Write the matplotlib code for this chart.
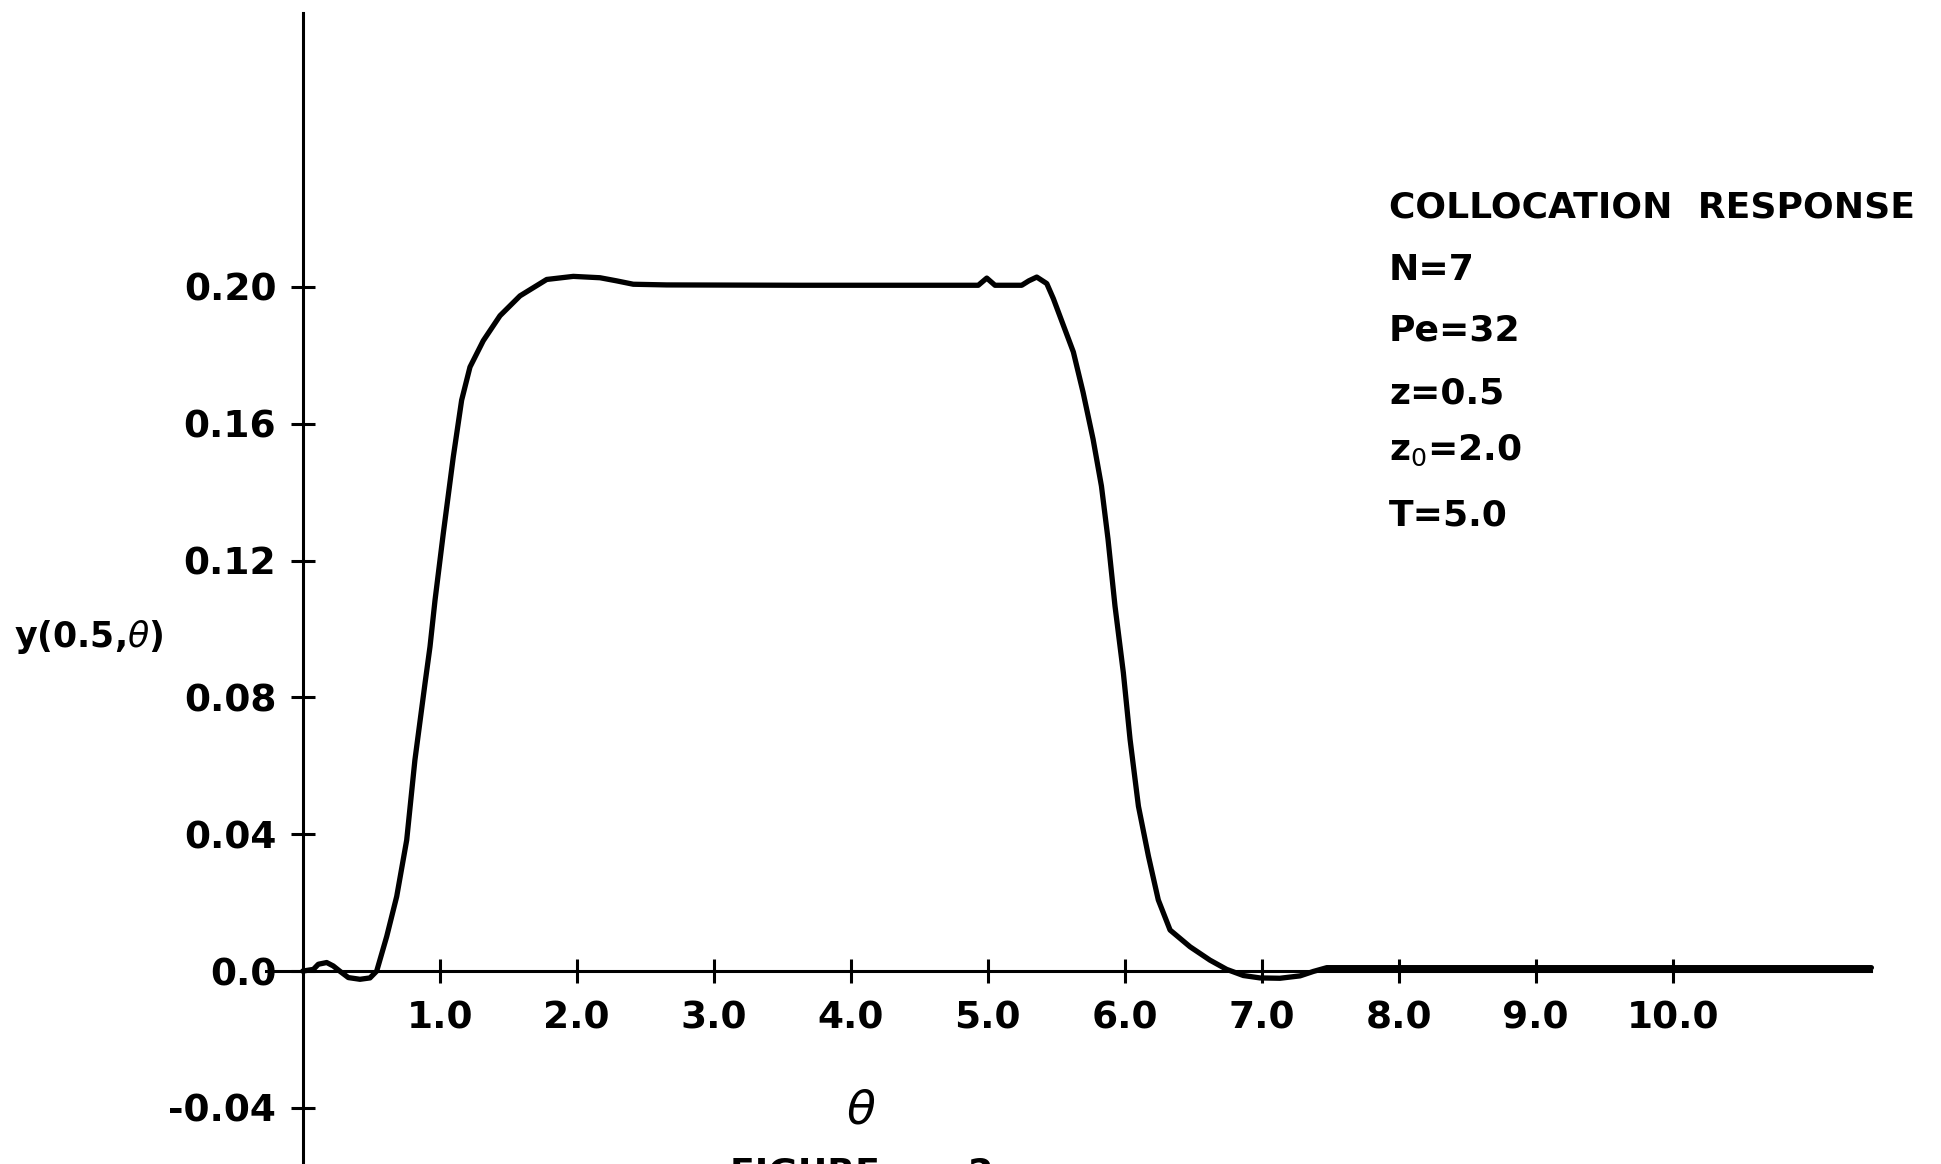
import matplotlib.pyplot as plt

# collocation response y(0.5, theta)
theta = [0.00, 0.078, 0.114, 0.175, 0.223, 0.27, 0.333, 0.418, 0.491, 0.54,
         0.613, 0.686, 0.759, 0.819, 0.893, 0.929, 0.966, 1.026, 1.099, 1.160,
         1.221, 1.318, 1.440, 1.586, 1.781, 1.975, 2.170, 2.29, 2.413, 2.657,
         3.63, 4.50, 4.931, 4.993, 5.053, 5.248, 5.30, 5.358, 5.431, 5.479,
         5.552, 5.625, 5.696, 5.769, 5.830, 5.878, 5.929, 5.990, 6.039, 6.100,
         6.173, 6.245, 6.331, 6.477, 6.622, 6.744, 6.866, 6.987, 7.133, 7.280,
         7.377, 7.475, 8.0, 9.0, 10.0, 11.45]
y_resp = [0.0000, 0.0005, 0.0020, 0.0025, 0.0015, 0.0000, -0.0019, -0.0024, -0.0020, 0.0000,
          0.0101, 0.0218, 0.0383, 0.0617, 0.0842, 0.0948, 0.1085, 0.1279, 0.1503, 0.1669,
          0.1766, 0.1843, 0.1916, 0.1974, 0.2022, 0.2031, 0.2027, 0.2018, 0.2008, 0.2006,
          0.2005, 0.2005, 0.2005, 0.2026, 0.2005, 0.2005, 0.2018, 0.2029, 0.2010, 0.1966,
          0.1888, 0.1810, 0.1692, 0.1555, 0.1418, 0.1263, 0.1067, 0.0872, 0.0677, 0.0482,
          0.0336, 0.0208, 0.0120, 0.0071, 0.0032, 0.0005, -0.0013, -0.0020, -0.0021, -0.0014,
          -0.0001, 0.0010, 0.0010, 0.0010, 0.0010, 0.0010]

x_ticks = [1.0, 2.0, 3.0, 4.0, 5.0, 6.0, 7.0, 8.0, 9.0, 10.0]
x_tick_labels = ["1.0", "2.0", "3.0", "4.0", "5.0", "6.0", "7.0", "8.0", "9.0", "10.0"]
y_ticks = [-0.04, 0.0, 0.04, 0.08, 0.12, 0.16, 0.20]
y_tick_labels = ["-0.04", "0.0", "0.04", "0.08", "0.12", "0.16", "0.20"]

info_lines = ["COLLOCATION  RESPONSE", "N=7", "Pe=32", "z=0.5", "z$_0$=2.0", "T=5.0"]
info_baselines = [218, 280, 340, 403, 460, 525]  # pixel rows from top

W, H = 1941, 1164
plt.rcParams['font.family'] = ['DejaVu Sans']
plt.rcParams['mathtext.fontset'] = 'dejavusans'

fig = plt.figure(figsize=(W / 100, H / 100), dpi=100)
fig.patch.set_facecolor('white')
ax = fig.add_axes([0, 0, 1, 1])
ax.set_xlim(-2.2095, 11.958)
ax.set_ylim(-0.0564, 0.2839)

ax.plot(theta, y_resp, color='black', lw=3.8,
        solid_joinstyle='round', solid_capstyle='round')

for side in ['top', 'right']:
    ax.spines[side].set_visible(False)
ax.spines['left'].set_position(('data', 0))
ax.spines['bottom'].set_position(('data', 0))
ax.spines['left'].set_bounds(-0.0564, 0.280)
ax.spines['bottom'].set_bounds(-0.27, 11.45)
for side in ['left', 'bottom']:
    ax.spines[side].set_linewidth(2.2)

ax.set_xticks(x_ticks, x_tick_labels)
ax.set_yticks(y_ticks, y_tick_labels)
ax.tick_params(axis='both', direction='inout', length=17, width=2.2,
               labelsize=27, color='black')
ax.tick_params(axis='x', pad=13.0)
ax.tick_params(axis='y', pad=10.5)
for lbl in ax.get_xticklabels() + ax.get_yticklabels():
    lbl.set_fontweight('bold')

# axis labels
fig.text(14 / W, 1 - 647 / H, r"y(0.5,$\theta$)", fontsize=25,
         fontweight='bold', ha='left', va='baseline')
fig.text(861 / W, 1 - 1111 / H, r"$\theta$", fontsize=34,
         ha='center', va='center')
fig.text(730 / W, 1 - 1157 / H, "FIGURE       2", fontsize=26,
         fontweight='bold', ha='left', va='top')

# parameter block
for txt, yb in zip(info_lines, info_baselines):
    fig.text(1389 / W, 1 - yb / H, txt, fontsize=26, fontweight='bold',
             ha='left', va='baseline')

fig.savefig("out.png", dpi=100, facecolor='white')
